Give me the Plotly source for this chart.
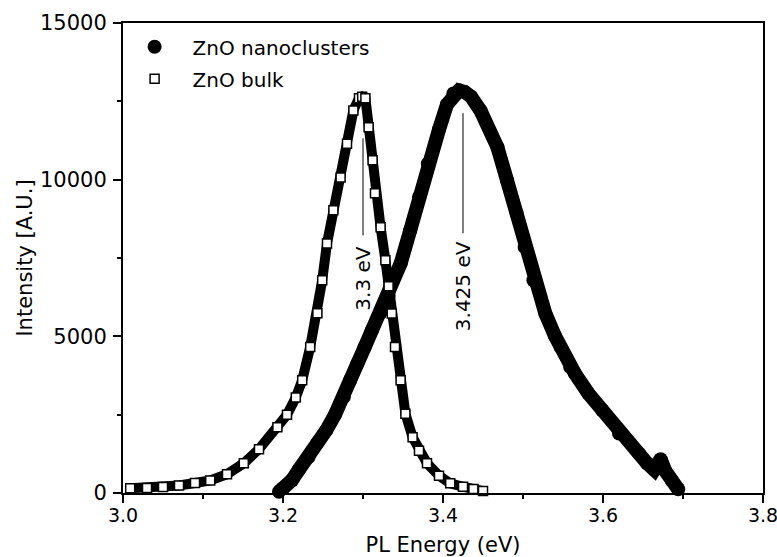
import plotly.graph_objects as go

# ---- data ----
nano_energy = [3.195, 3.200, 3.211, 3.220, 3.232, 3.243, 3.254, 3.265, 3.276, 3.284,
               3.293, 3.302, 3.311, 3.322, 3.332, 3.347, 3.359, 3.370, 3.381, 3.395,
               3.405, 3.413, 3.420, 3.427, 3.435, 3.447, 3.468, 3.480, 3.492, 3.502,
               3.513, 3.528, 3.540, 3.547, 3.559, 3.565, 3.582, 3.599, 3.620, 3.645,
               3.655, 3.664, 3.672, 3.678, 3.686, 3.694]
nano_intensity = [40, 150, 405, 750, 1150, 1600, 2000, 2500, 3060, 3600,
                  4130, 4650, 5190, 5750, 6300, 7320, 8380, 9450, 10510, 11600,
                  12400, 12750, 12850, 12800, 12650, 12200, 11040, 9980, 8920, 7850,
                  6790, 5725, 5010, 4660, 4020, 3810, 3170, 2640, 1900, 1260,
                  950, 740, 1080, 700, 400, 120]

bulk_energy = [3.009, 3.030, 3.050, 3.070, 3.090, 3.109, 3.130, 3.151, 3.170, 3.193,
               3.205, 3.216, 3.224, 3.234, 3.243, 3.249, 3.255, 3.263, 3.272, 3.280,
               3.288, 3.295, 3.299, 3.303, 3.307, 3.312, 3.315, 3.322, 3.328, 3.332,
               3.336, 3.340, 3.347, 3.353, 3.362, 3.370, 3.380, 3.395, 3.409, 3.425,
               3.438, 3.450]
bulk_intensity = [150, 160, 190, 240, 320, 400, 600, 950, 1400, 2100,
                  2500, 3050, 3600, 4660, 5735, 6790, 7965, 9020, 10070, 11150,
                  12210, 12600, 12650, 12600, 11670, 10620, 9570, 8480, 7430, 6600,
                  5730, 4660, 3600, 2530, 1780, 1350, 950, 550, 310, 200,
                  130, 60]

series_names = ["ZnO nanoclusters", "ZnO bulk"]

peak_labels = ["3.3 eV", "3.425 eV"]
peak_energy = [3.3, 3.425]
peak_line_top = [11320, 12120]
peak_line_bottom = [8220, 8290]
peak_label_center = [6840, 6600]

x_ticks = [3.0, 3.2, 3.4, 3.6, 3.8]
x_tick_text = ["3.0", "3.2", "3.4", "3.6", "3.8"]
y_ticks = [0, 5000, 10000, 15000]
y_tick_text = ["0", "5000", "10000", "15000"]

FONT = "DejaVu Sans"

fig = go.Figure()

# nanoclusters: filled circles (dense band)
fig.add_trace(go.Scatter(x=nano_energy, y=nano_intensity, mode="lines",
                         line=dict(color="black", width=14),
                         showlegend=False, hoverinfo="skip"))
fig.add_trace(go.Scatter(x=nano_energy, y=nano_intensity, mode="markers",
                         name=series_names[0], legendgroup="g1",
                         marker=dict(symbol="circle", size=14, color="black",
                                     line=dict(width=0)),
                         cliponaxis=False))

# bulk: open squares
fig.add_trace(go.Scatter(x=bulk_energy, y=bulk_intensity, mode="lines",
                         line=dict(color="black", width=10),
                         showlegend=False, hoverinfo="skip"))
fig.add_trace(go.Scatter(x=bulk_energy, y=bulk_intensity, mode="markers",
                         name=series_names[1], legendgroup="g2",
                         marker=dict(symbol="square", size=9, color="white",
                                     line=dict(width=1.5, color="black")),
                         cliponaxis=False))

# peak marker lines
for i in range(len(peak_labels)):
    fig.add_trace(go.Scatter(x=[peak_energy[i], peak_energy[i]],
                             y=[peak_line_top[i], peak_line_bottom[i]],
                             mode="lines", line=dict(color="black", width=1),
                             showlegend=False, hoverinfo="skip"))
    fig.add_annotation(x=peak_energy[i], y=peak_label_center[i], text=peak_labels[i],
                       textangle=-90, showarrow=False, xanchor="center", yanchor="middle",
                       font=dict(family=FONT, size=20, color="black"))

axis_common = dict(showline=True, linecolor="black", linewidth=2, mirror=True,
                   ticks="outside", tickcolor="black", tickwidth=1.5, ticklen=8,
                   showgrid=False, zeroline=False, automargin=False,
                   ticklabeloverflow="allow")

fig.update_xaxes(range=[3.0, 3.8], tickvals=x_ticks, ticktext=x_tick_text,
                 tickfont=dict(family=FONT, size=19, color="black"),
                 ticklabelstandoff=-4,
                 minor=dict(dtick=0.1, ticks="outside", ticklen=4, tickcolor="black", tickwidth=1.5),
                 title=dict(text="PL Energy (eV)", font=dict(family=FONT, size=21, color="black")),
                 **axis_common)
fig.update_yaxes(range=[0, 15000], tickvals=y_ticks, ticktext=y_tick_text,
                 tickfont=dict(family=FONT, size=21, color="black"),
                 ticklabelstandoff=2,
                 minor=dict(dtick=2500, ticks="outside", ticklen=4, tickcolor="black", tickwidth=1.5),
                 title=dict(text="Intensity [A.U.]", font=dict(family=FONT, size=21, color="black"),
                            standoff=2),
                 **axis_common)

fig.update_layout(
    width=777, height=557,
    margin=dict(l=123, r=14, t=23, b=64),
    paper_bgcolor="white", plot_bgcolor="white",
    font=dict(family=FONT, color="black"),
    showlegend=True,
    legend=dict(x=-0.010, y=0.991, xanchor="left", yanchor="top",
                bgcolor="rgba(0,0,0,0)", borderwidth=0,
                font=dict(family=FONT, size=20, color="black"),
                traceorder="grouped", tracegroupgap=3, itemwidth=66),
)

fig.write_html("out.html", config={"displayModeBar": False},
               post_script="document.body.style.margin='0';document.body.style.overflow='hidden';")
